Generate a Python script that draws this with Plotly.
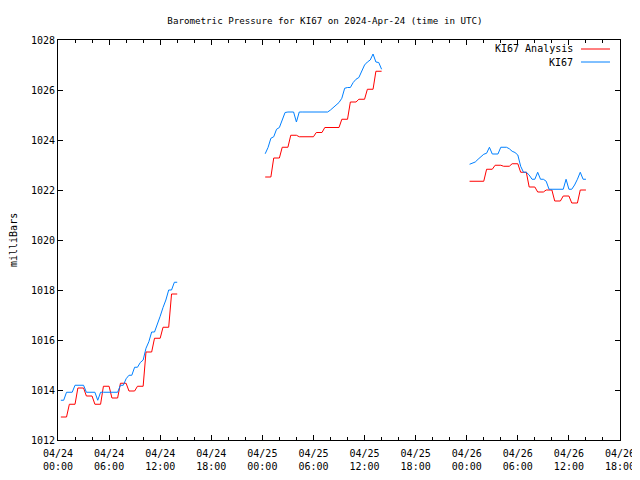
import numpy as np
import pandas as pd
import plotly.graph_objects as go

# ---------------- data ----------------
days = ["2024-04-24", "2024-04-25", "2024-04-26"]

# KI67 observations, 20-minute samples from 00:20 to 14:00 (mb)
ki67_day1 = [1013.59, 1013.59, 1013.91, 1013.91, 1013.91, 1014.19, 1014.19, 1014.19, 1014.19,
             1013.91, 1013.91, 1013.91, 1013.91, 1013.59, 1013.91, 1013.91, 1013.91, 1013.91,
             1013.91, 1013.91, 1013.91, 1014.19, 1014.19, 1014.45, 1014.59, 1014.59, 1014.91,
             1014.91, 1015.10, 1015.20, 1015.67, 1015.93, 1016.32, 1016.32, 1016.60, 1016.95,
             1017.30, 1017.60, 1018.00, 1018.00, 1018.31, 1018.31]
ki67_day2 = [1023.45, 1023.70, 1024.07, 1024.13, 1024.43, 1024.50, 1024.80, 1025.10, 1025.12,
             1025.12, 1025.12, 1024.72, 1025.12, 1025.12, 1025.12, 1025.12, 1025.12, 1025.12,
             1025.12, 1025.12, 1025.12, 1025.12, 1025.12, 1025.20, 1025.30, 1025.40, 1025.50,
             1025.67, 1026.07, 1026.10, 1026.10, 1026.30, 1026.43, 1026.50, 1026.75, 1027.00,
             1027.12, 1027.20, 1027.44, 1027.12, 1027.10, 1026.83]
ki67_day3 = [1023.03, 1023.06, 1023.12, 1023.23, 1023.33, 1023.43, 1023.47, 1023.71, 1023.44,
             1023.44, 1023.44, 1023.71, 1023.71, 1023.71, 1023.65, 1023.55, 1023.50, 1023.40,
             1022.95, 1022.71, 1022.71, 1022.60, 1022.43, 1022.43, 1022.71, 1022.43, 1022.43,
             1022.35, 1022.03, 1022.03, 1022.03, 1022.03, 1022.03, 1022.03, 1022.43, 1022.03,
             1022.03, 1022.20, 1022.43, 1022.71, 1022.43, 1022.43]

# KI67 Analysis, hourly values (hour 0 .. 13), held through each hour
analysis_day1 = [1012.92, 1013.43, 1014.08, 1013.76, 1013.43, 1014.15, 1013.68,
                 1014.27, 1013.96, 1014.15, 1015.52, 1016.07, 1016.51, 1017.84]
analysis_day2 = [1022.52, 1023.28, 1023.71, 1024.19, 1024.13, 1024.13, 1024.30,
                 1024.50, 1024.50, 1024.83, 1025.52, 1025.63, 1026.03, 1026.75]
analysis_day3 = [1022.35, 1022.35, 1022.83, 1022.99, 1022.95, 1023.05, 1022.71,
                 1022.12, 1021.92, 1022.00, 1021.56, 1021.76, 1021.48, 1022.00]

tick_times = pd.date_range("2024-04-24 00:00", "2024-04-26 18:00", freq="6h")
tick_labels = [t.strftime("%m/%d<br>%H:%M") for t in tick_times]
y_ticks = list(range(1012, 1029, 2))

# ---------------- build series ----------------
def join(days, series, expand=False):
    xs, ys = [], []
    for d, s in zip(days, series):
        vals = list(np.repeat(s, 3)) if expand else list(s)
        t = pd.date_range(f"{d} 00:20", periods=len(vals), freq="20min")
        xs += list(t) + [None]
        ys += vals + [None]
    return xs, ys

xa, ya = join(days, [analysis_day1, analysis_day2, analysis_day3], expand=True)
xo, yo = join(days, [ki67_day1, ki67_day2, ki67_day3])

RED = "#ff0000"
BLUE = "#0080ff"
FONT = "DejaVu Sans Mono"

# the page body has an 8px margin, so the figure is drawn 8px smaller
W, H = 632, 472

fig = go.Figure()
fig.add_trace(go.Scatter(x=xa, y=ya, mode="lines", name="KI67 Analysis",
                         line=dict(color=RED, width=1), connectgaps=False))
fig.add_trace(go.Scatter(x=xo, y=yo, mode="lines", name="KI67",
                         line=dict(color=BLUE, width=1), connectgaps=False))

fig.update_layout(
    width=W, height=H,
    margin=dict(l=50, r=20, t=32, b=40, autoexpand=False),
    paper_bgcolor="white", plot_bgcolor="white",
    showlegend=False,
    font=dict(family=FONT, size=10, color="black"),
    title=dict(text="Barometric Pressure for KI67 on 2024-Apr-24 (time in UTC)",
               x=317 / W, xanchor="center", y=1 - 13 / H, yanchor="middle",
               font=dict(family=FONT, size=9.2)),
)
fig.update_xaxes(
    type="date", automargin=False,
    range=[tick_times[0], tick_times[-1]],
    tickvals=list(tick_times), ticktext=tick_labels,
    ticks="inside", ticklen=5, tickcolor="black",
    minor=dict(dtick=2 * 3600 * 1000, ticks="inside", ticklen=3, tickcolor="black"),
    showline=True, linecolor="black", linewidth=1, mirror="ticks",
    showgrid=False, zeroline=False,
    ticklabelstandoff=4,
    tickfont=dict(family=FONT, size=10),
)
fig.update_yaxes(
    automargin=False,
    range=[1012, 1028],
    tickvals=y_ticks,
    ticks="inside", ticklen=5, tickcolor="black",
    showline=True, linecolor="black", linewidth=1, mirror="ticks",
    showgrid=False, zeroline=False,
    tickfont=dict(family=FONT, size=10),
)

# y-axis title
fig.add_annotation(x=(13 - 58) / 562, y=0.5, xref="paper", yref="paper", text="milliBars",
                   showarrow=False, textangle=-90, xanchor="center", yanchor="middle",
                   font=dict(family=FONT, size=10))

# gnuplot-style key (text on the left, line sample on the right)
for i, tr in enumerate(fig.data):
    yk = (440 - (49 + 13 * i)) / 400
    fig.add_annotation(x=0.92, y=yk, xref="paper", yref="paper", text=tr.name,
                       showarrow=False, xanchor="right", yanchor="middle",
                       font=dict(family=FONT, size=10))
    fig.add_shape(type="line", xref="paper", yref="paper", x0=0.9306, x1=0.9822,
                  y0=yk, y1=yk, line=dict(color=tr.line.color, width=1))

fig.write_html("out.html")
